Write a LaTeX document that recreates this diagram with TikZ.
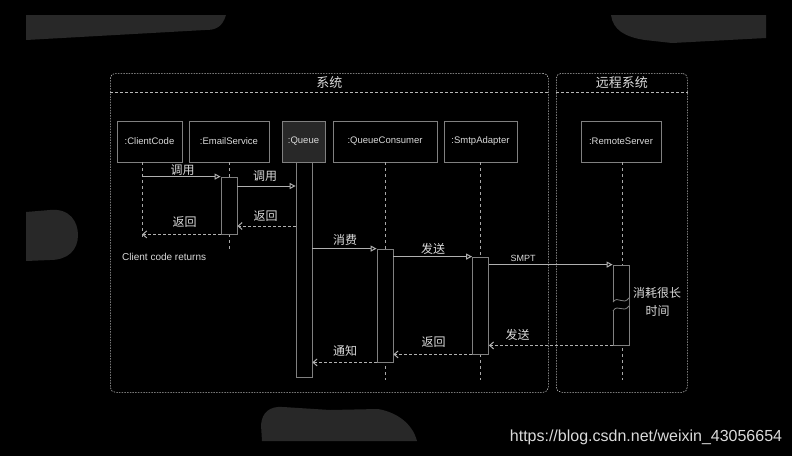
\documentclass[tikz,border=0pt]{standalone}
\usepackage{fontspec}
\setmainfont{Liberation Sans}
\newfontfamily\cjk{Noto Sans CJK SC}
\usetikzlibrary{arrows.meta}
\definecolor{blobgray}{HTML}{282828}
\definecolor{framegray}{HTML}{B8B8B8}
\definecolor{boxgray}{HTML}{808080}
\definecolor{lifegray}{HTML}{A8A8A8}
\definecolor{arrgray}{HTML}{B0B0B0}
\definecolor{txtgray}{HTML}{DADADA}

\begin{document}
\begin{tikzpicture}[x=1pt, y=-1pt,
    blob/.style={fill=blobgray, draw=none},
    frame/.style={draw=framegray, line width=0.6pt, dash pattern=on 1.5pt off 1.2pt, rounded corners=5pt, inner sep=0pt, anchor=north west},
    sep/.style={draw=framegray, line width=0.8pt, dash pattern=on 3pt off 2pt},
    title/.style={text=txtgray, font=\cjk\fontsize{13}{14}\selectfont, inner sep=0pt},
    obj/.style={draw=boxgray, line width=0.8pt, inner sep=0pt, minimum height=41pt, text=txtgray, font=\fontsize{9.5}{10}\selectfont},
    bar/.style={draw=boxgray, fill=black, line width=0.8pt, inner sep=0pt, minimum width=16pt},
    life/.style={draw=lifegray, line width=1pt, dash pattern=on 3pt off 3pt},
    call/.style={draw=arrgray, line width=1pt, -{Triangle[open, length=6pt, width=6pt]}},
    ret/.style={draw=arrgray, line width=1pt, dash pattern=on 3pt off 2pt, -{Straight Barb[length=4pt, width=7pt]}},
    lbl/.style={text=txtgray, font=\cjk\fontsize{12}{13}\selectfont, inner sep=0pt},
    note/.style={text=txtgray, font=\fontsize{10}{11}\selectfont, inner sep=0pt}]
    \fill[black] (0,0) rectangle (792,456);
    \useasboundingbox (0,0) rectangle (792,456);

    \fill[blob] (26,15) -- (226,15) .. controls (222,28) and (215,30) .. (205,30) -- (26,40) -- cycle;
    \fill[blob] (611,15) .. controls (613,30) and (625,37) .. (645,40) -- (672,43) -- (766,38) -- (766,15) -- cycle;
    \fill[blob] (26,212) -- (50,210) .. controls (70,208) and (78,222) .. (78,235) .. controls (78,250) and (68,260) .. (50,260) -- (26,261) -- cycle;
    \fill[blob] (262,441) -- (261,425) .. controls (262,412) and (270,406) .. (283,407) -- (330,410) -- (378,409) .. controls (395,412) and (412,422) .. (417,441) -- cycle;

    \node[frame, minimum width=438pt, minimum height=319pt] (sys) at (110,73) {};
    \node[frame, minimum width=131pt, minimum height=319pt] (remsys) at (556,73) {};
    \draw[sep] ([yshift=-19pt]sys.north west) -- ([yshift=-19pt]sys.north east);
    \draw[sep] ([yshift=-19pt]remsys.north west) -- ([yshift=-19pt]remsys.north east);
    \node[title] at ([yshift=-9.5pt]sys.north) {系统};
    \node[title] at ([yshift=-9.5pt]remsys.north) {远程系统};

    \node[obj, minimum width=65pt] (client) at (149.5,141.5) {:ClientCode};
    \node[obj, minimum width=80pt] (email) at (229,141.5) {:EmailService};
    \node[obj, minimum width=43pt, fill=blobgray] (queue) at (303.5,141.5) {:Queue};
    \node[obj, minimum width=104pt] (consumer) at (385,141.5) {:QueueConsumer};
    \node[obj, minimum width=73pt] (smtp) at (480.5,141.5) {:SmtpAdapter};
    \node[obj, minimum width=80pt] (remote) at (621,141.5) {:RemoteServer};

    \coordinate (cEnd) at (142,238);
    \coordinate (m2) at (0,186);
    \coordinate (m3) at (0,226);
    \draw[life] (client.south -| cEnd) -- (cEnd);
    \draw[life] (email.south) -- ++(0,88);
    \draw[life] (consumer.south) -- ++(0,218);
    \draw[life] (smtp.south) -- ++(0,218);
    \draw[life] (remote.south) ++(1,0) -- ++(0,218);

    \node[bar, minimum height=57pt] (ebar) at (229,205.5) {};
    \node[bar, minimum height=215pt] (qbar) at (304,269.5) {};
    \node[bar, minimum height=113pt] (cbar) at (385,305.5) {};
    \node[bar, minimum height=97pt] (sbar) at (480.5,305.5) {};
    \node[bar, minimum height=80pt] (rbar) at (621,305) {};

    \fill[black] (613,302) .. controls (618,295) and (623,306) .. (629,298) -- (629,306) .. controls (623,314) and (618,303) .. (613,311) -- cycle;
    \draw[boxgray, line width=0.8pt] (613,302) .. controls (618,295) and (623,306) .. (629,298);
    \draw[boxgray, line width=0.8pt] (613,311) .. controls (618,303) and (623,314) .. (629,306);

    \draw[call] (cEnd |- ebar.north) -- (ebar.north west);
    \draw[call] (ebar.east |- m2) -- (qbar.west |- m2);
    \draw[ret] (qbar.west |- m3) -- (ebar.east |- m3);
    \draw[ret] (ebar.south west) -- (cEnd |- ebar.south);
    \draw[call] (qbar.east |- cbar.north) -- (cbar.north west);
    \draw[call] (cbar.east |- sbar.north) -- (sbar.north west);
    \draw[call] (sbar.east |- rbar.north) -- (rbar.north west);
    \draw[ret] (rbar.south west) -- (sbar.east |- rbar.south);
    \draw[ret] (sbar.south west) -- (cbar.east |- sbar.south);
    \draw[ret] (cbar.south west) -- (qbar.east |- cbar.south);

    \node[lbl] at (182.5,170) {调用};
    \node[lbl] at (265,176) {调用};
    \node[lbl] at (265.5,216) {返回};
    \node[lbl] at (184.5,222) {返回};
    \node[note, anchor=west] at (122,257) {Client code returns};
    \node[lbl] at (345,240) {消费};
    \node[lbl] at (433,249) {发送};
    \node[note, font=\fontsize{9}{10}\selectfont] at (523,258) {SMPT};
    \node[lbl] at (517.5,335) {发送};
    \node[lbl] at (433.5,342) {返回};
    \node[lbl] at (345,351) {通知};
    \node[lbl] at (657,293) {消耗很长};
    \node[lbl] at (657.5,311) {时间};

    \node[text=txtgray, font=\fontsize{16}{17}\selectfont, inner sep=0pt] at (646,437) {https://blog.csdn.net/weixin\_43056654};
\end{tikzpicture}
\end{document}
